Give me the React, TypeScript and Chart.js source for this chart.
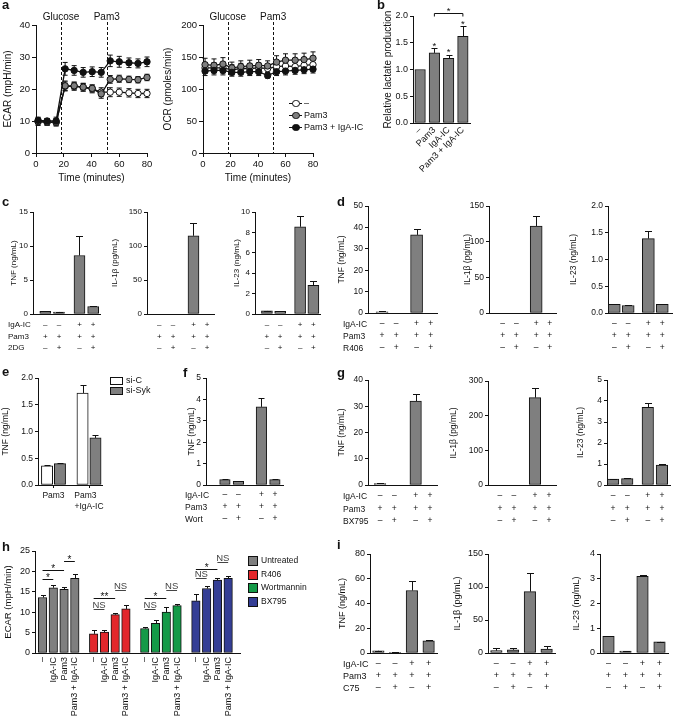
import React, { useEffect, useRef } from 'react';
import { Chart, registerables } from 'chart.js';

Chart.register(...registerables);

const FONT = "'Liberation Sans', Arial, Helvetica, sans-serif";
const INK = '#111111';
const GREY = '#7f7f7f';
const WHITE = '#ffffff';
const RED = '#e2272b';
const GREEN = '#149a48';
const BLUE = '#343e95';

Chart.defaults.font.family = FONT;
Chart.defaults.color = INK;

// ====================== DATA ======================
// Panel a – extracellular flux time course
const fluxTimes = [1.5, 8, 14.5, 21, 27.5, 34, 40.5, 47, 53.5, 60, 67, 73.5, 80];
const injectionTimes = [18, 51];
const injectionNames = ['Glucose', 'Pam3'];
const fluxGroups = ['–', 'Pam3', 'Pam3 + IgA-IC'];
const ecarNone = [9.8, 9.6, 9.6, 20.8, 20.8, 20.5, 20.0, 19.0, 19.0, 19.0, 18.8, 18.6, 18.6];
const ecarNoneErr = [1.2, 1.0, 1.0, 1.4, 1.2, 1.2, 1.2, 1.4, 1.4, 1.3, 1.3, 1.3, 1.3];
const ecarPam3 = [9.8, 9.7, 9.6, 21.0, 21.0, 20.6, 20.2, 18.5, 23.0, 23.2, 23.0, 22.9, 23.6];
const ecarPam3Err = [1.0, 1.0, 1.2, 1.5, 1.2, 1.2, 1.1, 1.4, 1.2, 1.1, 1.0, 1.0, 1.0];
const ecarBoth = [10.2, 10.0, 10.0, 26.3, 25.8, 25.2, 25.4, 25.2, 28.8, 28.5, 28.2, 28.0, 28.5];
const ecarBothErr = [1.0, 0.8, 1.2, 2.0, 1.5, 1.5, 1.5, 1.5, 1.8, 1.7, 1.5, 1.4, 1.5];
const ocrNone = [133, 133, 133, 130, 132, 132, 133, 132, 135, 136, 135, 137, 138];
const ocrNoneErr = [8, 8, 8, 8, 8, 8, 8, 6, 8, 8, 8, 8, 8];
const ocrPam3 = [138, 137, 139, 133, 135, 136, 137, 136, 142, 145, 145, 146, 148];
const ocrPam3Err = [10, 10, 10, 9, 9, 9, 9, 8, 10, 10, 10, 10, 10];
const ocrBoth = [128, 129, 129, 126, 126, 127, 127, 121, 127, 128, 129, 130, 131];
const ocrBothErr = [7, 7, 7, 6, 6, 6, 6, 4, 6, 6, 6, 6, 6];

// Panel b – lactate
const lactateGroups = ['–', 'Pam3', 'IgA-IC', 'Pam3 + IgA-IC'];
const lactateValues = [1.0, 1.31, 1.21, 1.62];
const lactateErrors = [0, 0.1, 0.06, 0.2];
const lactateStarLevels = [0, 1.49, 1.38, 1.89];
const lactateBracket = { from: 1, to: 3, level: 2.06, label: '*' };

// + / – rows shared by c, d, f, g, i
const rowIgA = ['–', '–', '+', '+'];
const rowPam3 = ['+', '+', '+', '+'];
const rowInhibitor = ['–', '+', '–', '+'];

// Panel c – 2DG
const cTnf = [0.4, 0.3, 8.6, 1.1];
const cTnfErr = [0.02, 0.02, 2.8, 0.03];
const cIl1b = [0, 0, 115, 0];
const cIl1bErr = [0, 0, 19, 0];
const cIl23 = [0.3, 0.25, 8.55, 2.8];
const cIl23Err = [0.03, 0.03, 1.1, 0.45];

// Panel d – R406
const dTnf = [0.6, 0, 36.5, 0];
const dTnfErr = [0.2, 0, 2.8, 0];
const dIl1b = [0, 0, 122, 0];
const dIl1bErr = [0, 0, 14, 0];
const dIl23 = [0.16, 0.14, 1.39, 0.16];
const dIl23Err = [0.005, 0.005, 0.14, 0.01];

// Panel e – si-RNA
const eGroups = ['Pam3', 'Pam3 +IgA-IC'];
const eSiC = [0.36, 1.72];
const eSiCErr = [0.01, 0.14];
const eSiSyk = [0.40, 0.88];
const eSiSykErr = [0.02, 0.06];

// Panel f – Wortmannin
const fTnf = [0.25, 0.17, 3.65, 0.25];
const fTnfErr = [0.02, 0, 0.4, 0.02];

// Panel g – BX795
const gTnf = [0.5, 0, 32, 0];
const gTnfErr = [0.1, 0, 2.5, 0];
const gIl1b = [0, 0, 252, 0];
const gIl1bErr = [0, 0, 28, 0];
const gIl23 = [0.28, 0.3, 3.7, 0.95];
const gIl23Err = [0.02, 0.02, 0.22, 0.05];

// Panel h – ECAR with inhibitors
const hStimuli = ['–', 'IgA-IC', 'Pam3', 'Pam3 + IgA-IC'];
const hTreatments = ['Untreated', 'R406', 'Wortmannin', 'BX795'];
const hUntreated = [13.6, 16.0, 15.6, 18.3];
const hUntreatedErr = [0.6, 0.6, 0.5, 1.0];
const hR406 = [4.7, 5.1, 9.4, 10.8];
const hR406Err = [1.0, 0.5, 0.3, 1.0];
const hWort = [6.0, 7.3, 10.0, 11.6];
const hWortErr = [0.4, 0.7, 1.3, 0.5];
const hBx = [12.8, 15.8, 17.9, 18.3];
const hBxErr = [1.7, 0.6, 0.5, 0.5];
const hSig = [
  { group: 0, from: 0, to: 1, level: 18.1, label: '*' },
  { group: 0, from: 0, to: 2, level: 20.3, label: '*' },
  { group: 0, from: 2, to: 3, level: 22.5, label: '*' },
  { group: 1, from: 0, to: 1, level: 10.8, label: 'NS' },
  { group: 1, from: 0, to: 2, level: 13.5, label: '**' },
  { group: 1, from: 2, to: 3, level: 15.4, label: 'NS' },
  { group: 2, from: 0, to: 1, level: 10.8, label: 'NS' },
  { group: 2, from: 0, to: 2, level: 13.5, label: '*' },
  { group: 2, from: 2, to: 3, level: 15.4, label: 'NS' },
  { group: 3, from: 0, to: 1, level: 18.4, label: 'NS' },
  { group: 3, from: 0, to: 2, level: 20.6, label: '*' },
  { group: 3, from: 2, to: 3, level: 22.3, label: 'NS' },
];

// Panel i – C75
const iTnf = [1.8, 0.5, 50.5, 9.8];
const iTnfErr = [0.2, 0.1, 8, 0.5];
const iIl1b = [3.5, 4.8, 93, 6];
const iIl1bErr = [3.5, 2.7, 28, 4.5];
const iIl23 = [0.67, 0.08, 3.1, 0.45];
const iIl23Err = [0.03, 0.01, 0.04, 0.01];

// ====================== LAYOUT HELPERS ======================
const signLabels = () => rowIgA.map((v, i) => [v, rowPam3[i], rowInhibitor[i]]);

const styleC = { fs: 8, tfs: 8, lineH: 11.5, pad: 5.25, barW: 11 };
const styleD = { fs: 8.5, tfs: 8.5, lineH: 12, pad: 4.7, barW: 12 };
const styleF = { fs: 8.5, tfs: 8.5, lineH: 12, pad: 4, barW: 10.5 };
const styleG = { fs: 8.5, tfs: 8.5, lineH: 12.5, pad: 4.75, barW: 11.5 };
const styleI = { fs: 9, tfs: 9, lineH: 12, pad: 5, barW: 11.5 };

function cytokineSpec(id: string, box: number[], yW: number, yMax: number, yStep: number, yDec: number,
  yTitle: string, values: number[], errors: number[], sp: any, st: any) {
  const xs = [0, 1, 2 + sp.gap, 3 + sp.gap];
  return {
    id, kind: 'bar', box, yW, xH: Math.ceil(3 * st.lineH + st.pad + 3), padT: 8, padR: 4,
    fs: st.fs, tfs: st.tfs, yMax, yStep, yDec, yTitle,
    xMin: -sp.s, xMax: 3 + sp.gap + sp.e,
    series: [{ xs, values, errors, color: GREY }],
    tickXs: xs, tickLabels: signLabels(), tickPad: st.pad, lineH: st.lineH, rot: 0, xMarks: false,
    barW: st.barW, cap: Math.round(st.barW * 0.6), annots: [] as any[],
  };
}

const spC = { s: 0.9, gap: 0.5, e: 0.5 };
const spD = { s: 1.0, gap: 0.45, e: 0.45 };
const spD3 = { s: 0.45, gap: 0.45, e: 0.7 };
const spF = { s: 1.4, gap: 0.7, e: 0.6 };
const spG = { s: 0.85, gap: 0.5, e: 0.5 };
const spG3 = { s: 0.43, gap: 0.45, e: 0.57 };
const spI = { s: 0.5, gap: 0, e: 0.5 };

// h positions
const hGap = 0.75;
const hPos = (g: number, j: number) => g * (4 + hGap) + j;

const specs: any[] = [];

// a
specs.push({
  id: 'a1', kind: 'line', box: [36, 25, 147, 153], yW: 34, xH: 31, padT: 16, padR: 8, fs: 9.5, tfs: 10,
  yMax: 40, yStep: 10, yTitle: 'ECAR (mpH/min)', times: fluxTimes, vlines: injectionTimes, vlabels: injectionNames,
  series: [
    { values: ecarBoth, errors: ecarBothErr, fill: INK },
    { values: ecarPam3, errors: ecarPam3Err, fill: GREY },
    { values: ecarNone, errors: ecarNoneErr, fill: WHITE },
  ],
});
specs.push({
  id: 'a2', kind: 'line', box: [203, 25, 313, 153], yW: 41, xH: 31, padT: 16, padR: 8, fs: 9.5, tfs: 10,
  yMax: 200, yStep: 50, yTitle: 'OCR (pmoles/min)', times: fluxTimes, vlines: injectionTimes, vlabels: injectionNames,
  series: [
    { values: ocrBoth, errors: ocrBothErr, fill: INK },
    { values: ocrPam3, errors: ocrPam3Err, fill: GREY },
    { values: ocrNone, errors: ocrNoneErr, fill: WHITE },
  ],
});

// b
{
  const xs = lactateGroups.map((_, i) => i);
  const annots: any[] = [];
  lactateStarLevels.forEach((lv, i) => { if (lv > 0) annots.push({ kind: 'star', x: i, y: lv, size: 9.5 }); });
  annots.push({ kind: 'bracket', x1: lactateBracket.from, x2: lactateBracket.to, y: lactateBracket.level, text: lactateBracket.label, drop: 3, size: 9.5, gap: 5 });
  specs.push({
    id: 'b', kind: 'bar', box: [413, 16, 470, 123], yW: 31, xH: 62, padT: 14, padR: 4, fs: 9, tfs: 10,
    yMax: 2, yStep: 0.5, yDec: 1, yTitle: 'Relative lactate production', xMin: -0.5, xMax: 3.5,
    series: [{ xs, values: lactateValues, errors: lactateErrors, color: GREY }],
    tickXs: xs, tickLabels: lactateGroups, tickPad: 2, lineH: 10.5, rot: 45, xMarks: false,
    barW: 10.5, cap: 6, annots,
  });
}

// c
specs.push(cytokineSpec('c1', [33, 212, 100, 314], 24, 15, 5, 0, 'TNF (ng/mL)', cTnf, cTnfErr, spC, styleC));
specs.push(cytokineSpec('c2', [147, 212, 214, 314], 37, 150, 50, 0, 'IL-1β (pg/mL)', cIl1b, cIl1bErr, spC, styleC));
specs.push(cytokineSpec('c3', [255, 212, 320, 314], 23, 10, 2, 0, 'IL-23 (ng/mL)', cIl23, cIl23Err, spC, styleC));
// d
specs.push(cytokineSpec('d1', [368, 206, 437, 313], 31, 50, 10, 0, 'TNF (ng/mL)', dTnf, dTnfErr, spD, styleD));
specs.push(cytokineSpec('d2', [489, 206, 556, 313], 26, 150, 50, 0, 'IL-1β (pg/mL)', dIl1b, dIl1bErr, spD, styleD));
specs.push(cytokineSpec('d3', [608, 206, 672, 313], 39, 2, 0.5, 1, 'IL-23 (ng/mL)', dIl23, dIl23Err, spD3, styleD));

// e
{
  const gap = 0.75;
  specs.push({
    id: 'e', kind: 'bar', box: [38, 378, 103, 485], yW: 37, xH: 31, padT: 8, padR: 4, fs: 8.5, tfs: 8.5,
    yMax: 2, yStep: 0.5, yDec: 1, yTitle: 'TNF (ng/mL)', xMin: -0.7, xMax: 3 + gap + 0.55,
    series: [
      { xs: [0, 2 + gap], values: eSiC, errors: eSiCErr, color: WHITE },
      { xs: [1, 3 + gap], values: eSiSyk, errors: eSiSykErr, color: GREY },
    ],
    tickXs: [0.5, 2.5 + gap],
    tickLabels: [eGroups[0], [eGroups[1].split(' ')[0] + '\u00a0\u00a0\u00a0', eGroups[1].split(' ')[1]]],
    tickPad: 2.5, lineH: 11, rot: 0, xMarks: true, barW: 11.3, cap: 6, annots: [],
  });
}
// f
specs.push(cytokineSpec('f', [206, 378, 283, 485], 19, 5, 1, 0, 'TNF (ng/mL)', fTnf, fTnfErr, spF, styleF));
// g
specs.push(cytokineSpec('g1', [368, 380, 437, 485], 31, 40, 10, 0, 'TNF (ng/mL)', gTnf, gTnfErr, spG, styleG));
specs.push(cytokineSpec('g2', [488, 381, 556, 485], 39, 300, 100, 0, 'IL-1β (pg/mL)', gIl1b, gIl1bErr, spG, styleG));
specs.push(cytokineSpec('g3', [607, 380, 670, 485], 31, 5, 1, 0, 'IL-23 (ng/mL)', gIl23, gIl23Err, spG3, styleG));

// h
{
  const hVals = [hUntreated, hR406, hWort, hBx];
  const hErrs = [hUntreatedErr, hR406Err, hWortErr, hBxErr];
  const hCols = [GREY, RED, GREEN, BLUE];
  const series = hVals.map((v, g) => ({ xs: v.map((_, j) => hPos(g, j)), values: v, errors: hErrs[g], color: hCols[g] }));
  const tickXs: number[] = [];
  const tickLabels: string[] = [];
  hVals.forEach((_, g) => hStimuli.forEach((s, j) => { tickXs.push(hPos(g, j)); tickLabels.push(s); }));
  const annots = hSig.map((a) => ({
    kind: 'bracket', x1: hPos(a.group, a.from), x2: hPos(a.group, a.to), y: a.level, text: a.label,
    drop: 0, size: a.label === 'NS' ? 9.5 : 10, gap: 4, color: a.label === 'NS' ? '#444' : INK,
  }));
  specs.push({
    id: 'h', kind: 'bar', box: [35, 551, 240, 653], yW: 32, xH: 70, padT: 8, padR: 6, fs: 9, tfs: 9.5,
    yMax: 25, yStep: 5, yDec: 0, yTitle: 'ECAR (mpH/min)', xMin: -0.7, xMax: hPos(3, 3) + 1.1,
    series, tickXs, tickLabels, tickPad: 4, lineH: 10.8, rot: 90, xMarks: false, barW: 8.5, cap: 5, annots,
  });
}

// i
specs.push(cytokineSpec('i1', [370, 554, 437, 653], 33, 80, 20, 0, 'TNF (ng/mL)', iTnf, iTnfErr, spI, styleI));
specs.push(cytokineSpec('i2', [488, 554, 555, 653], 36, 150, 50, 0, 'IL-1β (pg/mL)', iIl1b, iIl1bErr, spI, styleI));
specs.push(cytokineSpec('i3', [600, 554, 668, 653], 29, 4, 1, 0, 'IL-23 (ng/mL)', iIl23, iIl23Err, spI, styleI));

// ====================== PLUGIN ======================
function extrasPlugin(s: any) {
  return {
    id: 'extras',
    beforeDatasetsDraw(chart: any) {
      if (s.kind !== 'line') return;
      const { ctx, chartArea } = chart;
      const xS = chart.scales.x;
      const yS = chart.scales.y;
      ctx.save();
      ctx.strokeStyle = INK;
      ctx.lineWidth = 1;
      ctx.setLineDash([3, 2]);
      s.vlines.forEach((t: number) => {
        const x = Math.round(xS.getPixelForValue(t)) + 0.5;
        ctx.beginPath();
        ctx.moveTo(x, chartArea.top - 3);
        ctx.lineTo(x, chartArea.bottom);
        ctx.stroke();
      });
      ctx.setLineDash([]);
      ctx.fillStyle = INK;
      ctx.font = `${s.tfs}px ${FONT}`;
      ctx.textAlign = 'center';
      ctx.textBaseline = 'middle';
      s.vlines.forEach((t: number, k: number) => ctx.fillText(s.vlabels[k], xS.getPixelForValue(t), chartArea.top - 8));
      const cap = 5;
      s.series.forEach((se: any) => se.values.forEach((v: number, i: number) => {
        const e = se.errors[i];
        const x = xS.getPixelForValue(s.times[i]);
        const y1 = yS.getPixelForValue(v + e);
        const y2 = yS.getPixelForValue(v - e);
        ctx.beginPath();
        ctx.moveTo(x, y1); ctx.lineTo(x, y2);
        ctx.moveTo(x - cap / 2, y1); ctx.lineTo(x + cap / 2, y1);
        ctx.moveTo(x - cap / 2, y2); ctx.lineTo(x + cap / 2, y2);
        ctx.stroke();
      }));
      ctx.restore();
    },
    afterDatasetsDraw(chart: any) {
      if (s.kind !== 'bar') return;
      const ctx = chart.ctx;
      const xS = chart.scales.x;
      const yS = chart.scales.y;
      ctx.save();
      ctx.strokeStyle = INK;
      ctx.lineWidth = 1;
      s.series.forEach((se: any, d: number) => {
        const meta = chart.getDatasetMeta(d);
        meta.data.forEach((el: any, i: number) => {
          const e = se.errors[i];
          if (!e) return;
          const x = Math.round(el.x) + 0.5;
          const y0 = yS.getPixelForValue(se.values[i]);
          const y1 = Math.round(yS.getPixelForValue(se.values[i] + e)) + 0.5;
          ctx.beginPath();
          ctx.moveTo(x, y0); ctx.lineTo(x, y1);
          ctx.moveTo(x - s.cap / 2, y1); ctx.lineTo(x + s.cap / 2, y1);
          ctx.stroke();
        });
      });
      s.annots.forEach((a: any) => {
        const col = a.color || INK;
        ctx.fillStyle = col;
        ctx.strokeStyle = col;
        ctx.textAlign = 'center';
        ctx.textBaseline = 'alphabetic';
        ctx.font = `${a.size}px ${FONT}`;
        if (a.kind === 'star') {
          const py = yS.getPixelForValue(a.y);
          ctx.fillText(a.text || '*', xS.getPixelForValue(a.x), py + 0.57 * a.size);
        } else {
          const px1 = xS.getPixelForValue(a.x1);
          const px2 = xS.getPixelForValue(a.x2);
          const py = Math.round(yS.getPixelForValue(a.y)) + 0.5;
          ctx.beginPath();
          ctx.moveTo(px1, py); ctx.lineTo(px2, py);
          if (a.drop) {
            ctx.moveTo(px1, py); ctx.lineTo(px1, py + a.drop);
            ctx.moveTo(px2, py); ctx.lineTo(px2, py + a.drop);
          }
          ctx.stroke();
          const cx = (px1 + px2) / 2;
          if (a.text.indexOf('*') >= 0) ctx.fillText(a.text, cx, py - a.gap + 0.57 * a.size);
          else ctx.fillText(a.text, cx, py - 1.5);
        }
      });
      ctx.restore();
    },
  };
}

// ====================== CONFIG BUILDERS ======================
function yScale(s: any) {
  return {
    min: 0, max: s.yMax,
    afterFit: (sc: any) => { sc.width = s.yW; },
    ticks: {
      stepSize: s.yStep, padding: 2, color: INK, font: { size: s.fs, family: FONT },
      callback: (v: any) => Number(v).toFixed(s.yDec || 0),
    },
    grid: { display: true, drawOnChartArea: false, drawTicks: true, tickLength: 3, color: INK, lineWidth: 1 },
    border: { display: true, color: INK, width: 1 },
    title: { display: true, text: s.yTitle, color: INK, font: { size: s.tfs, family: FONT }, padding: 0 },
  };
}

function baseOptions(s: any) {
  return {
    responsive: false, maintainAspectRatio: false, animation: false, devicePixelRatio: 1,
    layout: { padding: { left: 0, top: s.padT, right: s.padR, bottom: 0 } },
    plugins: { legend: { display: false }, tooltip: { enabled: false } },
  };
}

function lineConfig(s: any): any {
  return {
    type: 'line',
    data: {
      datasets: s.series.map((se: any) => ({
        data: s.times.map((t: number, i: number) => ({ x: t, y: se.values[i] })),
        borderColor: INK, borderWidth: 1.3, backgroundColor: se.fill,
        pointBackgroundColor: se.fill, pointBorderColor: INK, pointBorderWidth: 1, pointRadius: 3.2,
        tension: 0, clip: false, fill: false,
      })),
    },
    options: {
      ...baseOptions(s),
      scales: {
        x: {
          type: 'linear', min: 0, max: 80, bounds: 'data',
          afterFit: (sc: any) => { sc.height = s.xH; },
          ticks: { stepSize: 20, padding: 2, color: INK, font: { size: s.fs, family: FONT } },
          grid: { display: true, drawOnChartArea: false, drawTicks: true, tickLength: 4, color: INK },
          border: { display: true, color: INK, width: 1 },
          title: { display: true, text: 'Time (minutes)', color: INK, font: { size: s.tfs, family: FONT }, padding: 0 },
        },
        y: { ...yScale(s), grid: { display: true, drawOnChartArea: false, drawTicks: true, tickLength: 4, color: INK } },
      },
    },
    plugins: [extrasPlugin(s)],
  };
}

function barConfig(s: any): any {
  return {
    type: 'bar',
    data: {
      datasets: s.series.map((se: any) => ({
        data: se.xs.map((x: number, i: number) => ({ x, y: se.values[i] })),
        backgroundColor: se.color, borderColor: INK, borderWidth: 1, borderSkipped: false,
        barThickness: s.barW, maxBarThickness: s.barW, grouped: false,
        barPercentage: 1, categoryPercentage: 1,
      })),
    },
    options: {
      ...baseOptions(s),
      scales: {
        x: {
          type: 'linear', min: s.xMin, max: s.xMax, offset: false, bounds: 'data',
          afterBuildTicks: (sc: any) => { sc.ticks = s.tickXs.map((v: number) => ({ value: v })); },
          afterFit: (sc: any) => { sc.height = s.xH; },
          ticks: {
            autoSkip: false, minRotation: s.rot, maxRotation: s.rot, padding: s.tickPad, color: INK,
            font: { size: s.fs, family: FONT, lineHeight: s.lineH / s.fs },
            callback: (_v: any, i: number) => s.tickLabels[i],
          },
          grid: { display: s.xMarks, drawOnChartArea: false, drawTicks: s.xMarks, tickLength: 3, color: INK, offset: false },
          border: { display: true, color: INK, width: 1 },
        },
        y: yScale(s),
      },
    },
    plugins: [extrasPlugin(s)],
  };
}

// ====================== COMPONENTS ======================
function ChartBox({ spec }: { spec: any }) {
  const ref = useRef<HTMLCanvasElement>(null);
  const [ax, ay, ar, ab] = spec.box;
  const left = ax - spec.yW;
  const top = ay - spec.padT;
  const width = Math.round(ar - ax + spec.yW + spec.padR);
  const height = Math.round(ab - ay + spec.padT + spec.xH);
  useEffect(() => {
    const cfg = spec.kind === 'line' ? lineConfig(spec) : barConfig(spec);
    const chart = new Chart(ref.current as HTMLCanvasElement, cfg);
    return () => chart.destroy();
  }, []);
  return (
    <canvas ref={ref} width={width} height={height}
      style={{ position: 'absolute', left, top, width, height }} />
  );
}

function Txt({ x, cy, size, children, bold, color }: any) {
  const lh = Math.round(size * 1.2);
  return (
    <div style={{
      position: 'absolute', left: x, top: cy - lh / 2, height: lh, lineHeight: `${lh}px`,
      fontSize: size, fontWeight: bold ? 'bold' : 'normal', whiteSpace: 'nowrap', color: color || INK,
    }}>{children}</div>
  );
}

function RowLabels({ x, bottom, st, names }: any) {
  return (
    <>
      {names.map((n: string, i: number) => (
        <Txt key={n} x={x} cy={bottom + st.pad + st.lineH * (i + 0.5)} size={st.fs}>{n}</Txt>
      ))}
    </>
  );
}

const panelLetters: [string, number, number][] = [
  ['a', 2, 5], ['b', 377, 5], ['c', 2, 202], ['d', 337, 202], ['e', 2, 372],
  ['f', 183, 373], ['g', 337, 373], ['h', 2, 547], ['i', 337, 545],
];

export default function App() {
  const legendFills = [WHITE, GREY, INK];
  const legendYs = [103, 115, 127];
  const hCols = [GREY, RED, GREEN, BLUE];
  const hLegY = [560, 574, 587, 601];
  return (
    <div style={{
      position: 'fixed', left: 0, top: 0, width: 675, height: 723, background: '#fff',
      overflow: 'hidden', fontFamily: FONT, color: INK,
    }}>
      {specs.map((s) => <ChartBox key={s.id} spec={s} />)}

      {panelLetters.map(([l, x, y]) => <Txt key={l} x={x} cy={y} size={13} bold>{l}</Txt>)}

      {/* legend a */}
      {fluxGroups.map((g, k) => (
        <div key={g} style={{ position: 'absolute', left: 289, top: legendYs[k] - 6, height: 12, width: 90 }}>
          <div style={{ position: 'absolute', left: 0, width: 13, top: 5.5, borderTop: `1.3px solid ${INK}` }} />
          <div style={{
            position: 'absolute', left: 3, top: 2.5, width: 5.5, height: 5.5, borderRadius: '50%',
            border: `1px solid ${INK}`, background: legendFills[k],
          }} />
          <div style={{ position: 'absolute', left: 15, top: 0, lineHeight: '12px', fontSize: 9, whiteSpace: 'nowrap' }}>{g}</div>
        </div>
      ))}

      {/* row labels */}
      <RowLabels x={8} bottom={314} st={styleC} names={['IgA-IC', 'Pam3', '2DG']} />
      <RowLabels x={343} bottom={313} st={styleD} names={['IgA-IC', 'Pam3', 'R406']} />
      <RowLabels x={185} bottom={485} st={styleF} names={['IgA-IC', 'Pam3', 'Wort']} />
      <RowLabels x={343} bottom={485} st={styleG} names={['IgA-IC', 'Pam3', 'BX795']} />
      <RowLabels x={343} bottom={653} st={styleI} names={['IgA-IC', 'Pam3', 'C75']} />

      {/* legend e */}
      {['si-C', 'si-Syk'].map((n, k) => (
        <div key={n} style={{ position: 'absolute', left: 110, top: 380 + k * 10 - 5, height: 10, width: 60 }}>
          <div style={{
            position: 'absolute', left: 0, top: 1.5, width: 11, height: 6, border: `1px solid ${INK}`,
            background: k === 0 ? WHITE : GREY,
          }} />
          <div style={{ position: 'absolute', left: 16, top: 0, lineHeight: '10px', fontSize: 9, whiteSpace: 'nowrap' }}>{n}</div>
        </div>
      ))}

      {/* legend h */}
      {hTreatments.map((n, k) => (
        <div key={n} style={{ position: 'absolute', left: 248, top: hLegY[k] - 6, height: 12, width: 80 }}>
          <div style={{
            position: 'absolute', left: 0, top: 1.5, width: 8, height: 8, border: `1px solid ${INK}`,
            background: hCols[k],
          }} />
          <div style={{ position: 'absolute', left: 13, top: 0, lineHeight: '12px', fontSize: 8.5, whiteSpace: 'nowrap' }}>{n}</div>
        </div>
      ))}
    </div>
  );
}
